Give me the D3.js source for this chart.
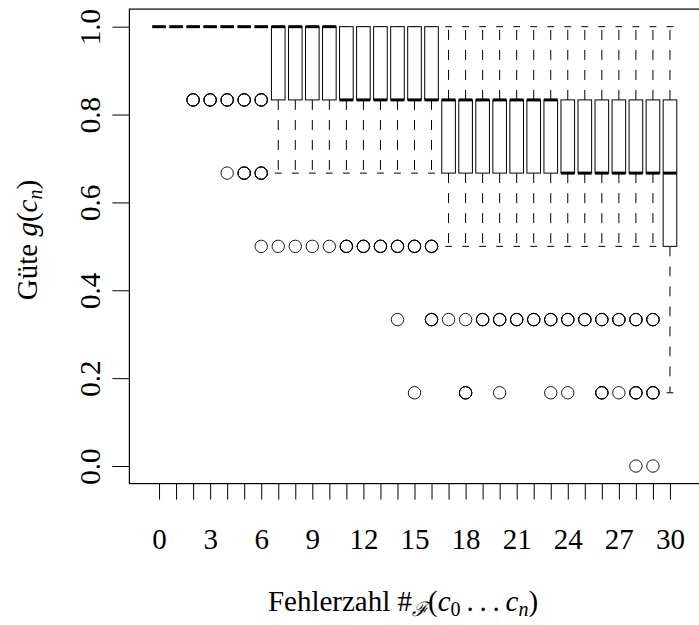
<!DOCTYPE html>
<html>
<head>
<meta charset="utf-8">
<script src="https://cdn.jsdelivr.net/npm/d3@7"></script>
<style>
  html, body { margin: 0; padding: 0; background: #fff; }
  svg { display: block; }
  text { font-family: "Liberation Serif", "DejaVu Serif", serif; fill: #000; }
</style>
</head>
<body>
<svg id="chart" width="699" height="625"></svg>
<script>
// ---- data ----
const categories = [0,1,2,3,4,5,6,7,8,9,10,11,12,13,14,15,16,17,18,19,20,21,22,23,24,25,26,27,28,29,30];
const whiskerLow = [1,1,1,1,1,1,1, 0.6667,0.6667,0.6667,0.6667, 0.6667,0.6667,0.6667,0.6667,0.6667,0.6667,
                    0.5,0.5,0.5,0.5,0.5,0.5,0.5, 0.5,0.5,0.5,0.5,0.5,0.5, 0.1667];
const lowerHinge = [1,1,1,1,1,1,1, 0.8333,0.8333,0.8333,0.8333, 0.8333,0.8333,0.8333,0.8333,0.8333,0.8333,
                    0.6667,0.6667,0.6667,0.6667,0.6667,0.6667,0.6667, 0.6667,0.6667,0.6667,0.6667,0.6667,0.6667, 0.5];
const medians    = [1,1,1,1,1,1,1, 1,1,1,1, 0.8333,0.8333,0.8333,0.8333,0.8333,0.8333,
                    0.8333,0.8333,0.8333,0.8333,0.8333,0.8333,0.8333, 0.6667,0.6667,0.6667,0.6667,0.6667,0.6667, 0.6667];
const upperHinge = [1,1,1,1,1,1,1, 1,1,1,1, 1,1,1,1,1,1,
                    0.8333,0.8333,0.8333,0.8333,0.8333,0.8333,0.8333, 0.8333,0.8333,0.8333,0.8333,0.8333,0.8333, 0.8333];
const whiskerHigh = [1,1,1,1,1,1,1, 1,1,1,1, 1,1,1,1,1,1,
                    1,1,1,1,1,1,1, 1,1,1,1,1,1, 1];
// outliers: [category, value, number of tied points]
const outliers = [
  [2,0.8333,3],[3,0.8333,3],[4,0.8333,3],[5,0.8333,3],[6,0.8333,3],
  [4,0.6667,1],[5,0.6667,3],[6,0.6667,3],
  [6,0.5,1],[7,0.5,1],[8,0.5,1],[9,0.5,1],[10,0.5,1],
  [11,0.5,3],[12,0.5,3],[13,0.5,3],[14,0.5,3],[15,0.5,3],[16,0.5,3],
  [14,0.3333,1],[16,0.3333,3],[17,0.3333,1],[18,0.3333,1],
  [19,0.3333,3],[20,0.3333,3],[21,0.3333,3],[22,0.3333,3],[23,0.3333,3],[24,0.3333,3],
  [25,0.3333,3],[26,0.3333,3],[27,0.3333,3],[28,0.3333,3],[29,0.3333,3],
  [15,0.1667,1],[18,0.1667,3],[20,0.1667,1],[23,0.1667,1],[24,0.1667,1],
  [26,0.1667,3],[27,0.1667,1],[28,0.1667,3],[29,0.1667,3],
  [28,0,1],[29,0,1]
];
const xTickLabels = [0,3,6,9,12,15,18,21,24,27,30];
const yTicks = [0,0.2,0.4,0.6,0.8,1.0];

// ---- layout ----
const svg = d3.select("#chart");
const x = d3.scaleLinear().domain([-1.74, 31.74]).range([129.4, 699.6]);
const y = d3.scaleLinear().domain([-0.04, 1.04]).range([483.6, 9.1]);
const boxHalf = 0.4, stapleHalf = 0.2;

const g = svg.append("g");

// whiskers (dashed) from hinge outward
categories.forEach((c, i) => {
  const cx = x(c);
  if (whiskerLow[i] < lowerHinge[i]) {
    g.append("line").attr("x1", cx).attr("x2", cx)
      .attr("y1", y(lowerHinge[i])).attr("y2", y(whiskerLow[i]))
      .attr("stroke", "#000").attr("stroke-width", 1).attr("stroke-dasharray", "10,10");
  }
  if (whiskerHigh[i] > upperHinge[i]) {
    g.append("line").attr("x1", cx).attr("x2", cx)
      .attr("y1", y(upperHinge[i])).attr("y2", y(whiskerHigh[i]))
      .attr("stroke", "#000").attr("stroke-width", 1).attr("stroke-dasharray", "10,10");
  }
  // staples
  [whiskerLow[i], whiskerHigh[i]].forEach(v => {
    g.append("line").attr("x1", x(c - stapleHalf)).attr("x2", x(c + stapleHalf))
      .attr("y1", y(v)).attr("y2", y(v))
      .attr("stroke", "#000").attr("stroke-width", 1);
  });
  // box
  g.append("rect")
    .attr("x", x(c - boxHalf)).attr("width", x(c + boxHalf) - x(c - boxHalf))
    .attr("y", y(upperHinge[i])).attr("height", y(lowerHinge[i]) - y(upperHinge[i]))
    .attr("fill", "#fff").attr("stroke", "#000").attr("stroke-width", 1);
  // median
  g.append("line").attr("x1", x(c - boxHalf)).attr("x2", x(c + boxHalf))
    .attr("y1", y(medians[i])).attr("y2", y(medians[i]))
    .attr("stroke", "#000").attr("stroke-width", 3);
});

// outliers
outliers.forEach(([c, v, n]) => {
  for (let k = 0; k < n; k++) {
    g.append("circle").attr("cx", x(c)).attr("cy", y(v)).attr("r", 6.2)
      .attr("fill", "none").attr("stroke", "#000").attr("stroke-width", 0.9);
  }
});

// frame
svg.append("rect")
  .attr("x", x(-1.74)).attr("y", y(1.04))
  .attr("width", x(31.74) - x(-1.74)).attr("height", y(-0.04) - y(1.04))
  .attr("fill", "none").attr("stroke", "#000").attr("stroke-width", 1.2);

// x axis
const xAxis = d3.axisBottom(x).tickValues(categories).tickSize(16).tickSizeOuter(0)
  .tickFormat(d => xTickLabels.includes(d) ? String(d) : "");
const gx = svg.append("g").attr("transform", `translate(0,${y(-0.04)})`).call(xAxis);
gx.select(".domain").remove();
gx.selectAll(".tick line").attr("stroke", "#000").attr("stroke-width", 1);
gx.selectAll(".tick text").attr("y", 0).attr("dy", 0)
  .attr("transform", "translate(0,65)")
  .style("font-family", '"Liberation Serif", serif').style("font-size", "29px");

// y axis
const yAxis = d3.axisLeft(y).tickValues(yTicks).tickSize(17).tickSizeOuter(0)
  .tickFormat(d3.format(".1f"));
const gy = svg.append("g").attr("transform", `translate(${x(-1.74)},0)`).call(yAxis);
gy.select(".domain").remove();
gy.selectAll(".tick line").attr("stroke", "#000").attr("stroke-width", 1);
gy.selectAll(".tick text").attr("x", 0).attr("y", 0).attr("dy", 0)
  .attr("text-anchor", "middle")
  .attr("transform", "translate(-29.5,0) rotate(-90)")
  .style("font-family", '"Liberation Serif", serif').style("font-size", "29px");

// x label
const xl = svg.append("text").attr("x", 403).attr("y", 611)
  .attr("text-anchor", "middle").style("font-size", "29px");
xl.append("tspan").text("Fehlerzahl #");
xl.append("tspan").attr("font-style", "italic").attr("font-size", "20px").attr("dy", 5).text("ℱ");
xl.append("tspan").attr("dy", -5).text("(");
xl.append("tspan").attr("font-style", "italic").text("c");
xl.append("tspan").attr("font-size", "20px").attr("dy", 5).text("0");
xl.append("tspan").attr("dy", -5).text("\u2009.\u2009.\u2009.\u2009");
xl.append("tspan").attr("font-style", "italic").text("c");
xl.append("tspan").attr("font-style", "italic").attr("font-size", "20px").attr("dy", 5).text("n");
xl.append("tspan").attr("dy", -5).text(")");

// y label
const yl = svg.append("text").attr("text-anchor", "middle")
  .attr("transform", "translate(37,240) rotate(-90)").style("font-size", "29px");
yl.append("tspan").text("Güte ");
yl.append("tspan").attr("font-style", "italic").text("g");
yl.append("tspan").text("(");
yl.append("tspan").attr("font-style", "italic").text("c");
yl.append("tspan").attr("font-style", "italic").attr("font-size", "20px").attr("dy", 5).text("n");
yl.append("tspan").attr("dy", -5).text(")");
</script>
</body>
</html>
